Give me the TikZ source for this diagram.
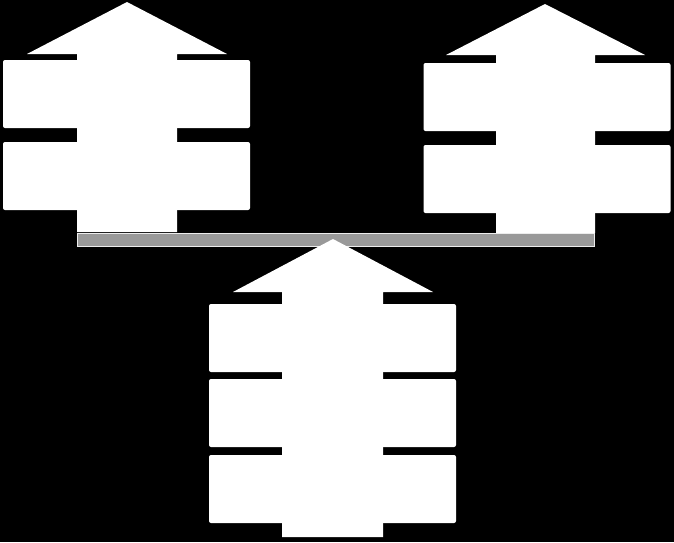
\documentclass[tikz,border=0pt]{standalone}
\definecolor{beamgray}{gray}{0.6}
\begin{document}
\begin{tikzpicture}[x=1pt,y=-1pt,
    box/.style={fill=white,rounded corners=2pt,inner sep=0pt,minimum width=247pt,minimum height=68pt},
    beam/.style={fill=beamgray,draw=white!85!gray,line width=1pt}]
    \fill[black] (0,0) rectangle (674,542);
    \useasboundingbox (0,0) rectangle (674,542);
    % left
    \fill[white] (127,2) -- (227,54) -- (177,54) -- (177,232) -- (77,232) -- (77,54) -- (27,54) -- cycle;
    \node[box] (L1) at (126.5,94) {};
    \node[box] (L2) at (126.5,176) {};
    % right
    \fill[white] (545,4) -- (645,55) -- (595,55) -- (595,233) -- (496,233) -- (496,55) -- (446,55) -- cycle;
    \node[box] (R1) at (547,97) {};
    \node[box] (R2) at (547,179) {};
    % beam
    \draw[beam] (77.5,233.5) rectangle (594.5,246.5);
    % bottom
    \fill[white] (333,239) -- (433,292) -- (383,292) -- (383,537) -- (282,537) -- (282,292) -- (233,292) -- cycle;
    \node[box] (B1) at (332.5,338) {};
    \node[box] (B2) at (332.5,413) {};
    \node[box] (B3) at (332.5,489) {};
\end{tikzpicture}
\end{document}
